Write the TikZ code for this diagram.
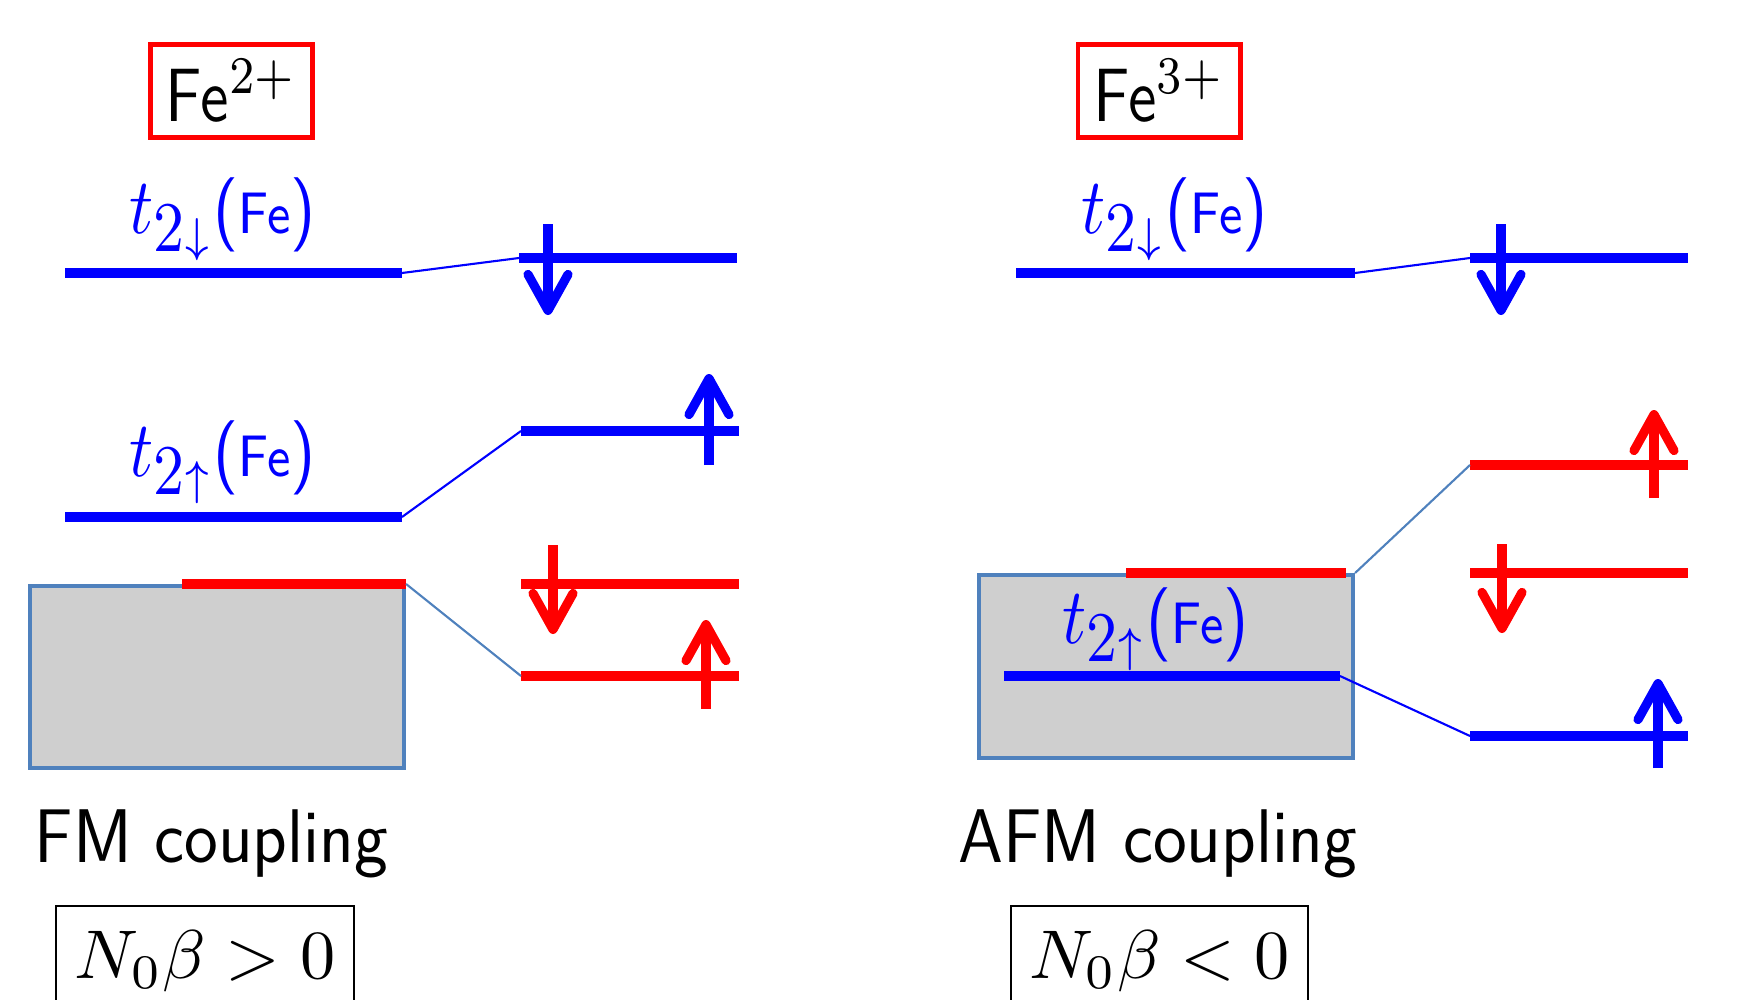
\documentclass[tikz,border=0pt]{standalone}
\usetikzlibrary{arrows.meta}
\definecolor{lvblue}{RGB}{0,0,255}
\definecolor{lvred}{RGB}{255,0,0}
\definecolor{bandedge}{RGB}{79,129,189}
\definecolor{bandfill}{RGB}{207,207,207}
\newcommand\spinlabel[1]{\scalebox{1.9}[2.25]{$t_{\mbox{\fontsize{8.8}{9}\selectfont$2$}\mbox{\fontsize{6.5}{7}\selectfont$#1$}}$\textsf{\fontsize{9.4}{10}\selectfont(\fontsize{7.4}{8}\selectfont Fe\fontsize{9.4}{10}\selectfont)}}}
\begin{document}
\begin{tikzpicture}[x=0.01cm,y=-0.01cm,
  level/.style={line width=2.9pt},
  link/.style={line width=0.6pt},
  spinarrow/.style={line width=2.6pt,-{Straight Barb[length=0.36cm,width=0.4cm,round]}},
  ionbox/.style={draw=lvred,line width=1.4pt,inner sep=0pt,minimum width=1.62cm,minimum height=0.93cm},
  bandbox/.style={draw=bandedge,fill=bandfill,line width=1.1pt,inner sep=0pt,minimum width=3.74cm,anchor=north west},
  lab/.style={inner sep=0pt,anchor=base west,text=lvblue},
  coup/.style={inner sep=0pt,anchor=base west,font=\sffamily\fontsize{20.4}{24}\selectfont},
  signbox/.style={draw=black,line width=0.6pt,inner sep=0pt,minimum width=2.97cm,minimum height=1.4cm,anchor=north},
  signtext/.style={inner sep=0pt,anchor=base}
]
\path[use as bounding box] (0,0) rectangle (1751,1000);
\clip (0,0) rectangle (1751,1000);

% ---------------- left panel: Fe2+ ----------------
\node[ionbox] (ionL) at (231.5,91) {\scalebox{1.82}[2.15]{\textsf{Fe}$^{2+}$}};

\node[bandbox,minimum height=1.82cm] (bandL) at (28,584) {};

\coordinate (L1a) at (65,273);  \coordinate (L1b) at (402,273);
\coordinate (R1a) at (519,258); \coordinate (R1b) at (737,258);
\coordinate (L2a) at (65,517);  \coordinate (L2b) at (402,517);
\coordinate (R2a) at (521,431); \coordinate (R2b) at (739,431);
\coordinate (LRa) at (182,584);
\coordinate (R3a) at (521,584); \coordinate (R3b) at (739,584);
\coordinate (R4a) at (521,676); \coordinate (R4b) at (739,676);

\draw[level,lvblue] (L1a) -- (L1b);
\draw[level,lvblue] (R1a) -- (R1b);
\draw[level,lvblue] (L2a) -- (L2b);
\draw[level,lvblue] (R2a) -- (R2b);
\draw[level,lvred] (LRa) -- (bandL.north east);
\draw[level,lvred] (R3a) -- (R3b);
\draw[level,lvred] (R4a) -- (R4b);

\draw[link,lvblue] (L1b) -- (R1a);
\draw[link,lvblue] (L2b) -- (R2a);
\draw[link,bandedge] (bandL.north east) -- (R4a);

\coordinate (A1s) at (548,224); \coordinate (A1e) at (548,315);
\coordinate (A2s) at (709,465); \coordinate (A2e) at (709,374);
\coordinate (A3s) at (553,545); \coordinate (A3e) at (553,634);
\coordinate (A4s) at (706,709); \coordinate (A4e) at (706,620);
\draw[spinarrow,lvblue] (A1s) -- (A1e);
\draw[spinarrow,lvblue] (A2s) -- (A2e);
\draw[spinarrow,lvred] (A3s) -- (A3e);
\draw[spinarrow,lvred] (A4s) -- (A4e);

\node[lab] (tdnL) at (129,233) {\spinlabel{\downarrow}};
\node[lab] (tupL) at (129,476) {\spinlabel{\uparrow}};

\node[coup] (fm) at (34,862) {\scalebox{1}[1.06]{FM coupling}};
\node[signbox] (posL) at (205,905) {};
\node[signtext] (posLt) at (205,978) {\scalebox{2.0}[1.96]{$N_0\beta>0$}};

% ---------------- right panel: Fe3+ ----------------
\node[ionbox] (ionR) at (1159,91) {\scalebox{1.82}[2.15]{\textsf{Fe}$^{3+}$}};

\node[bandbox,minimum height=1.83cm] (bandR) at (977,573) {};

\coordinate (M1a) at (1016,273); \coordinate (M1b) at (1355,273);
\coordinate (S1a) at (1470,258); \coordinate (S1b) at (1688,258);
\coordinate (S2a) at (1470,465); \coordinate (S2b) at (1688,465);
\coordinate (MRa) at (1126,573); \coordinate (MRb) at (1346,573);
\coordinate (MBa) at (1004,676); \coordinate (MBb) at (1340,676);
\coordinate (S3a) at (1470,573); \coordinate (S3b) at (1688,573);
\coordinate (S4a) at (1470,736); \coordinate (S4b) at (1688,736);

\draw[level,lvblue] (M1a) -- (M1b);
\draw[level,lvblue] (S1a) -- (S1b);
\draw[level,lvred] (S2a) -- (S2b);
\draw[level,lvred] (MRa) -- (MRb);
\draw[level,lvblue] (MBa) -- (MBb);
\draw[level,lvred] (S3a) -- (S3b);
\draw[level,lvblue] (S4a) -- (S4b);

\draw[link,lvblue] (M1b) -- (S1a);
\draw[link,bandedge] (bandR.north east) -- (S2a);
\draw[link,lvblue] (MBb) -- (S4a);

\coordinate (B1s) at (1501,224); \coordinate (B1e) at (1501,315);
\coordinate (B2s) at (1654,498); \coordinate (B2e) at (1654,410);
\coordinate (B3s) at (1502,544); \coordinate (B3e) at (1502,633);
\coordinate (B4s) at (1658,768); \coordinate (B4e) at (1658,679);
\draw[spinarrow,lvblue] (B1s) -- (B1e);
\draw[spinarrow,lvred] (B2s) -- (B2e);
\draw[spinarrow,lvred] (B3s) -- (B3e);
\draw[spinarrow,lvblue] (B4s) -- (B4e);

\node[lab] (tdnR) at (1081,233) {\spinlabel{\downarrow}};
\node[lab] (tupR) at (1062,643) {\spinlabel{\uparrow}};

\node[coup] (afm) at (958,862) {\scalebox{1}[1.06]{AFM coupling}};
\node[signbox] (negR) at (1159.5,905) {};
\node[signtext] (negRt) at (1159.5,978) {\scalebox{2.0}[1.96]{$N_0\beta<0$}};
\end{tikzpicture}
\end{document}
